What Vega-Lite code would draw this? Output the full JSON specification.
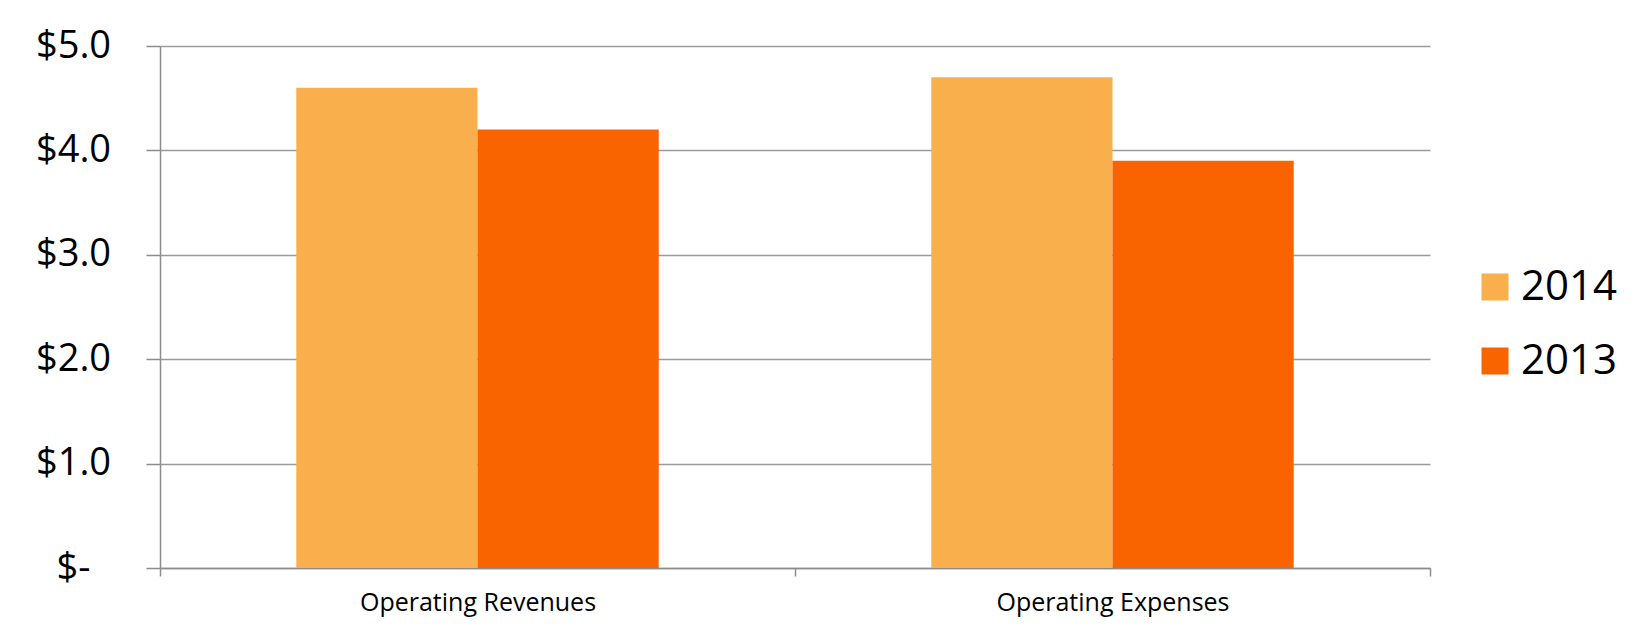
{
  "$schema": "https://vega.github.io/schema/vega-lite/v6.json",
  "autosize": "none",
  "width": 1270,
  "height": 522,
  "padding": {"left": 160, "top": 46, "right": 209, "bottom": 66},
  "background": "white",
  "data": {
    "values": [
      {"category": "Operating Revenues", "year": "2014", "value": 4.6},
      {"category": "Operating Revenues", "year": "2013", "value": 4.2},
      {"category": "Operating Expenses", "year": "2014", "value": 4.7},
      {"category": "Operating Expenses", "year": "2013", "value": 3.9}
    ]
  },
  "mark": {"type": "bar"},
  "encoding": {
    "x": {
      "field": "category",
      "type": "nominal",
      "sort": ["Operating Revenues", "Operating Expenses"],
      "scale": {"paddingInner": 0, "paddingOuter": 0},
      "axis": {
        "title": null,
        "labelAngle": 0,
        "labelFont": "Open Sans",
        "labelFontSize": 25,
        "labelLimit": 0,
        "labelColor": "#000000",
        "labelPadding": 14,
        "tickBand": "extent",
        "ticks": true,
        "tickSize": 8,
        "tickColor": "#8c8c8c",
        "tickWidth": 1.5,
        "domainColor": "#8c8c8c",
        "domainWidth": 1.5,
        "grid": false
      }
    },
    "xOffset": {
      "field": "year",
      "type": "nominal",
      "sort": ["2014", "2013"],
      "scale": {"paddingInner": 0, "paddingOuter": 0.752}
    },
    "y": {
      "field": "value",
      "type": "quantitative",
      "scale": {"domain": [0, 5], "nice": false},
      "axis": {
        "title": null,
        "values": [0, 1, 2, 3, 4, 5],
        "labelExpr": "datum.value == 0 ? '$-' : '$' + format(datum.value, '.1f')",
        "labelFont": "Open Sans",
        "labelFontSize": 38,
        "labelColor": "#000000",
        "labelAlign": "center",
        "labelBaseline": "middle",
        "labelPadding": 73,
        "tickSize": 14,
        "tickColor": "#8c8c8c",
        "tickWidth": 1.5,
        "domainColor": "#8c8c8c",
        "domainWidth": 1.5,
        "grid": true,
        "gridColor": "#9a9a9a",
        "gridWidth": 1.5
      }
    },
    "color": {
      "field": "year",
      "type": "nominal",
      "sort": ["2014", "2013"],
      "scale": {"domain": ["2014", "2013"], "range": ["#F9B04C", "#FA6400"]},
      "legend": {
        "title": null,
        "orient": "none",
        "legendX": 1314,
        "legendY": 220,
        "padding": 0,
        "symbolType": "square",
        "symbolSize": 729,
        "symbolStrokeWidth": 0,
        "labelFont": "Open Sans",
        "labelFontSize": 42,
        "labelColor": "#000000",
        "labelOffset": 5,
        "rowPadding": 32
      }
    }
  },
  "config": {"view": {"stroke": null}}
}
